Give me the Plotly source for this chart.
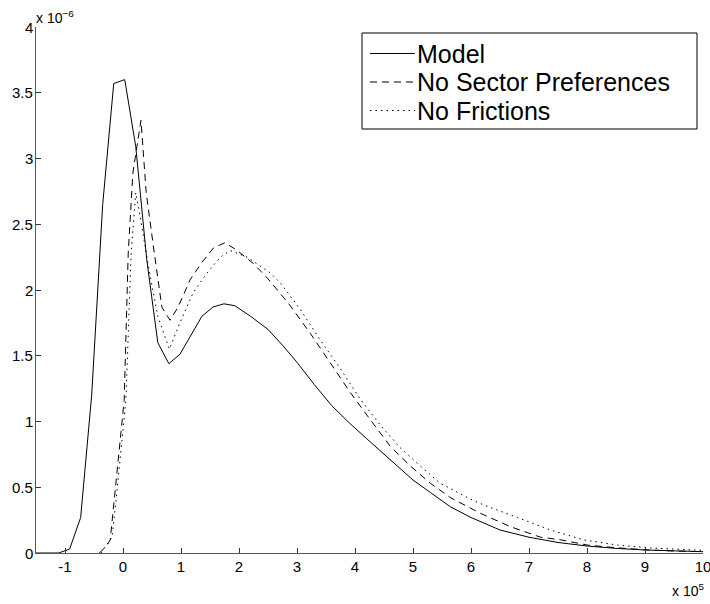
import plotly.graph_objects as go

# x in units of 1e5, y in units of 1e-6
model_x = [-1.5, -1.11, -0.92, -0.73, -0.54, -0.35, -0.16, 0.03, 0.22, 0.41, 0.60, 0.79, 0.98,
           1.17, 1.36, 1.55, 1.74, 1.93, 2.2, 2.5, 2.75, 3.0, 3.3, 3.6, 3.9, 4.2, 4.5, 4.8, 5.0,
           5.3, 5.65, 6.0, 6.5, 7.0, 7.5, 8.0, 8.5, 9.0, 9.5, 10.0]
model_y = [0, 0, 0.03, 0.27, 1.2, 2.65, 3.57, 3.60, 3.09, 2.23, 1.60, 1.44, 1.51,
           1.66, 1.80, 1.87, 1.895, 1.88, 1.80, 1.70, 1.58, 1.45, 1.28, 1.12, 0.99, 0.87, 0.75, 0.63, 0.555,
           0.46, 0.35, 0.27, 0.175, 0.12, 0.08, 0.053, 0.035, 0.023, 0.015, 0.01]

nsp_x = [-0.41, -0.29, -0.22, -0.15, -0.07, 0.02, 0.09, 0.17, 0.31, 0.40, 0.54, 0.67, 0.81, 0.95,
         1.16, 1.36, 1.56, 1.76, 1.97, 2.25, 2.49, 2.85, 3.23, 3.58, 3.92, 4.27, 4.61, 4.96, 5.30,
         5.65, 6.17, 6.68, 7.20, 7.55, 8.01, 8.5, 9.05, 9.5, 10.0]
nsp_y = [0, 0.05, 0.10, 0.40, 0.78, 1.16, 2.28, 2.89, 3.29, 2.74, 2.28, 1.87, 1.77, 1.87,
         2.08, 2.21, 2.32, 2.36, 2.30, 2.20, 2.09, 1.90, 1.67, 1.44, 1.22, 1.01, 0.81, 0.66, 0.53,
         0.42, 0.30, 0.20, 0.12, 0.10, 0.06, 0.04, 0.023, 0.015, 0.01]

nf_x = [-0.38, -0.19, -0.12, -0.03, 0.05, 0.14, 0.22, 0.30, 0.45, 0.60, 0.80, 0.98, 1.21, 1.45,
        1.68, 1.85, 2.14, 2.54, 2.72, 3.06, 3.40, 3.75, 4.09, 4.44, 4.78, 5.13, 5.47, 5.99, 6.22,
        6.80, 7.37, 7.94, 8.53, 9.1, 10.0]
nf_y = [0, 0.12, 0.40, 0.78, 1.16, 2.28, 2.74, 2.55, 2.15, 1.80, 1.55, 1.75, 1.98, 2.13,
        2.25, 2.30, 2.25, 2.13, 2.05, 1.85, 1.62, 1.40, 1.17, 0.97, 0.80, 0.66, 0.53, 0.41, 0.365,
        0.27, 0.175, 0.10, 0.06, 0.038, 0.02]

x_ticks = list(range(-1, 11))
y_ticks = [0, 0.5, 1, 1.5, 2, 2.5, 3, 3.5, 4]
y_tick_labels = ["0", "0.5", "1", "1.5", "2", "2.5", "3", "3.5", "4"]
series_names = ["Model", "No Sector Preferences", "No Frictions"]
series_dash = ["solid", "7px,5px", "1.5px,4px"]
series_data = [(model_x, model_y), (nsp_x, nsp_y), (nf_x, nf_y)]

FONT = "Liberation Sans, Arial, Helvetica, sans-serif"

# figure geometry (pixels)
W, H = 710, 604
ML, MR, MT, MB = 36, 7, 27, 51
PW, PH = W - ML - MR, H - MT - MB


def px(xp):
    return (xp - ML) / PW


def py(yp):
    return (H - MB - yp) / PH


fig = go.Figure()
for (xs, ys), name, dash in zip(series_data, series_names, series_dash):
    fig.add_trace(go.Scatter(x=xs, y=ys, mode="lines", name=name, showlegend=False,
                             line=dict(color="black", width=1, dash=dash)))

axis_common = dict(showgrid=False, zeroline=False, showline=True, linecolor="#555",
                   linewidth=1, ticks="inside", ticklen=5, tickcolor="#333", tickwidth=1,
                   tickfont=dict(family=FONT, size=15, color="black"), mirror=False,
                   automargin=False, ticklabeloverflow="allow")

fig.update_xaxes(range=[-1.5, 10], tickvals=x_ticks, ticktext=[str(v) for v in x_ticks],
                 **axis_common)
fig.update_yaxes(range=[0, 4], tickvals=y_ticks, showticklabels=False, **axis_common)

# hand-drawn legend box (MATLAB style)
LEG_L, LEG_R, LEG_T, LEG_B = 362, 697, 33, 129
ROW_Y = [53.5, 82, 110.5]
SYM_X0, SYM_X1, TEXT_X = 370, 415, 415

shapes = [dict(type="rect", xref="paper", yref="paper",
               x0=px(LEG_L), x1=px(LEG_R), y0=py(LEG_B), y1=py(LEG_T),
               line=dict(color="black", width=1), fillcolor="white", layer="above")]
annotations = []
for name, dash, ry in zip(series_names, series_dash, ROW_Y):
    shapes.append(dict(type="line", xref="paper", yref="paper",
                       x0=px(SYM_X0), x1=px(SYM_X1), y0=py(ry), y1=py(ry),
                       line=dict(color="black", width=1, dash=dash), layer="above"))
    annotations.append(dict(text=name, xref="paper", yref="paper", x=px(TEXT_X), y=py(ry),
                            xanchor="left", yanchor="middle", showarrow=False,
                            font=dict(family=FONT, size=25, color="black")))

# y tick labels placed tight against the axis, MATLAB style
for v, lab in zip(y_ticks, y_tick_labels):
    annotations.append(dict(text=lab, xref="paper", yref="y", x=0, y=v,
                            xanchor="right", yanchor="middle", xshift=-1, showarrow=False,
                            font=dict(family=FONT, size=15, color="black")))

annotations += [
    dict(text="x 10<sup>−6</sup>", xref="paper", yref="paper", x=0, y=1,
         xanchor="left", yanchor="bottom", yshift=-1, xshift=-2, showarrow=False,
         font=dict(family=FONT, size=14, color="black")),
    dict(text="x 10<sup>5</sup>", xref="paper", yref="paper", x=1, y=0,
         xanchor="right", yanchor="top", yshift=-26, xshift=3, showarrow=False,
         font=dict(family=FONT, size=14, color="black")),
]

fig.update_layout(
    width=W, height=H,
    margin=dict(l=ML, r=MR, t=MT, b=MB, autoexpand=False),
    plot_bgcolor="white", paper_bgcolor="white",
    showlegend=False,
    shapes=shapes,
    annotations=annotations,
)

fig.write_html("out.html", config={"displayModeBar": False},
               post_script="document.body.style.margin='0px';")
